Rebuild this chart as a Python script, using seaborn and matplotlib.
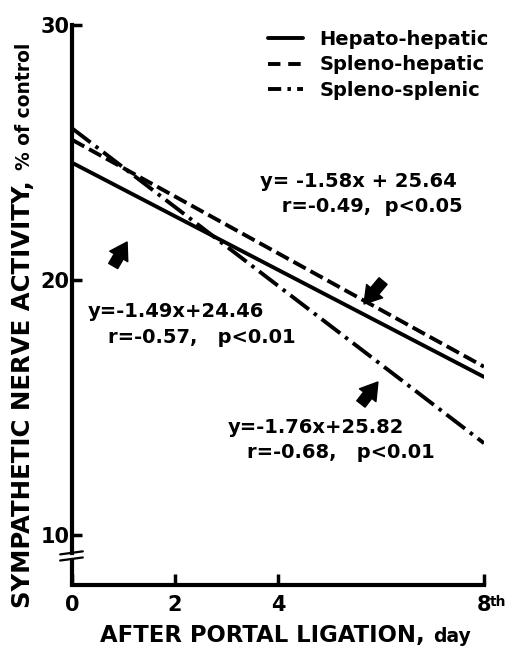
import pandas as pd
import seaborn as sns
import matplotlib.pyplot as plt
from matplotlib.lines import Line2D

# values (regression lines, end points at day 0 and day 8)
days = [0, 8]
hepato_hepatic = [24.6, 16.2]
spleno_hepatic = [25.5, 16.6]
spleno_splenic = [25.95, 13.6]
group_names = ['Hepato-hepatic', 'Spleno-hepatic', 'Spleno-splenic']

y_ticks = [10, 20, 30]
x_ticks = [0, 2, 4, 8]
x_tick_labels = ['0', '2', '4', '8']

equations = ['y= -1.58x + 25.64', 'y=-1.49x+24.46', 'y=-1.76x+25.82']
stats = [' r=-0.49,  p<0.05', 'r=-0.57,   p<0.01', 'r=-0.68,   p<0.01']

sns.set_style("ticks")
plt.rcParams['font.family'] = ['DejaVu Sans']
plt.rcParams['font.weight'] = 'bold'
for key in ['text.color', 'axes.labelcolor', 'xtick.color', 'ytick.color', 'axes.edgecolor']:
    plt.rcParams[key] = 'black'

fig = plt.figure(figsize=(5.16, 6.47), dpi=100)
ax = fig.add_axes([72 / 516, 1 - 585 / 647, 412 / 516, 560 / 647])

styles = {
    'Hepato-hepatic': '-',
    'Spleno-hepatic': (0, (3.6, 1.4)),
    'Spleno-splenic': (0, (6.0, 1.6, 0.9, 1.6)),
}
series = [hepato_hepatic, spleno_hepatic, spleno_splenic]
for name, vals in zip(group_names, series):
    df = pd.DataFrame({'day': days, 'activity': vals})
    sns.lineplot(data=df, x='day', y='activity', ax=ax, color='black', lw=2.8,
                 linestyle=styles[name], label=name, legend=False)

ax.set_xlim(0, 8)
ax.set_ylim(8.04, 30)
ax.set_xticks(x_ticks)
ax.set_xticklabels(x_tick_labels)
ax.set_yticks(y_ticks)
ax.set_xlabel('')
ax.set_ylabel('')
ax.tick_params(axis='y', direction='in', length=7, width=2.5, pad=2, labelsize=15)
ax.tick_params(axis='x', direction='in', length=8, width=2.5, pad=7, labelsize=15)

sns.despine(ax=ax)
for side in ['left', 'bottom']:
    ax.spines[side].set_linewidth(3)
    ax.spines[side].set_color('black')

# axis break near the bottom of the y axis
ax.spines['left'].set_bounds(9.31, 30)
ax.plot([0, 0], [8.04, 9.1], color='black', lw=3, clip_on=False, solid_capstyle='butt')
ax.plot([-0.23, 0.21], [9.24, 9.36], color='black', lw=1.6, clip_on=False)
ax.plot([-0.23, 0.21], [9.0, 9.12], color='black', lw=1.6, clip_on=False)

# legend
handles = [Line2D([0], [0], color='black', lw=2.8, linestyle='-'),
           Line2D([0], [0], color='black', lw=2.8, linestyle=(0, (3.2, 2.0))),
           Line2D([0], [0], color='black', lw=2.8, linestyle=(2.6, (6.0, 1.6, 0.9, 1.6)))]
ax.legend(handles, group_names, loc='upper left', bbox_to_anchor=(268 / 516, 1 - 30 / 647),
          bbox_transform=fig.transFigure, frameon=False, fontsize=14, handlelength=1.8,
          handletextpad=0.85, labelspacing=0.33, borderpad=0, borderaxespad=0)

# regression texts
eq_pos = [(3.65, 23.65), (0.31, 18.55), (3.03, 14.0)]
st_pos = [(3.94, 22.67), (0.70, 17.53), (3.40, 13.02)]
for eq, st, p1, p2 in zip(equations, stats, eq_pos, st_pos):
    ax.text(p1[0], p1[1], eq, fontsize=14, fontweight='bold', ha='left', va='baseline')
    ax.text(p2[0], p2[1], st, fontsize=14, fontweight='bold', ha='left', va='baseline')

# small arrows pointing to the lines
arrow_kw = dict(arrowstyle='simple,head_length=0.8,head_width=1.0,tail_width=0.5',
                fc='black', ec='black', mutation_scale=15, shrinkA=0, shrinkB=0)
for tail, head in [((0.80, 20.55), (1.07, 21.49)),
                   ((6.04, 19.96), (5.67, 19.06)),
                   ((5.61, 15.14), (5.94, 16.0))]:
    ax.annotate('', xy=head, xytext=tail, arrowprops=arrow_kw)

# axis labels built from two sizes
fig.text(30 / 516, 1 - 608 / 647, 'SYMPATHETIC NERVE ACTIVITY,', rotation=90,
         rotation_mode='anchor', ha='left', va='baseline', fontsize=17.6, fontweight='bold')
fig.text(30 / 516, 1 - 170 / 647, '% of control', rotation=90,
         rotation_mode='anchor', ha='left', va='baseline', fontsize=13.5, fontweight='bold')
fig.text(100 / 516, 1 - 642 / 647, 'AFTER PORTAL LIGATION,', ha='left', va='baseline',
         fontsize=16.4, fontweight='bold')
fig.text(433 / 516, 1 - 642 / 647, 'day', ha='left', va='baseline', fontsize=13.5,
         fontweight='bold')
fig.text(490 / 516, 1 - 595 / 647, 'th', ha='left', va='top', fontsize=10, fontweight='bold')

fig.savefig('out.png', dpi=100)
